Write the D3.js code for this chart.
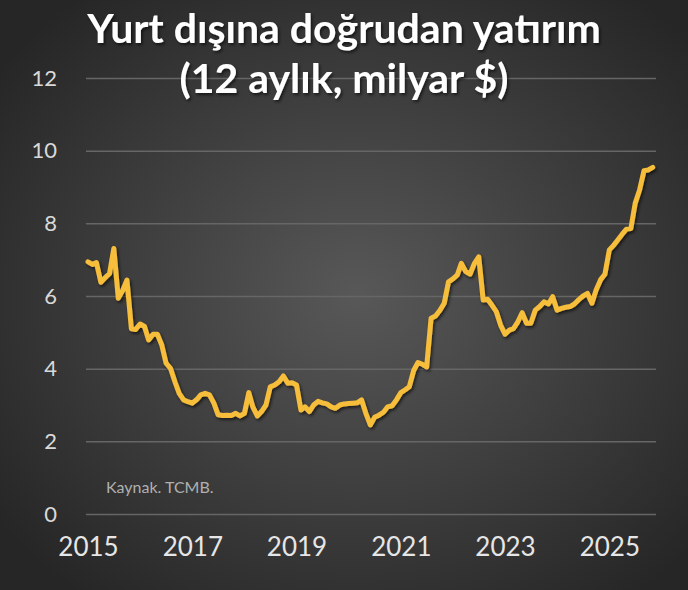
<!DOCTYPE html>
<html>
<head>
<meta charset="utf-8">
<script src="https://cdn.jsdelivr.net/npm/d3@7"></script>
<style>
  html, body { margin: 0; padding: 0; background: #3a3a3a; }
  svg { display: block; font-family: Lato, "Open Sans", sans-serif; }
</style>
</head>
<body>
<svg id="chart"></svg>
<script>
// monthly 12-month rolling outward FDI, Jan 2015 onward (bn $)
const startYear = 2015;
const values = [
  6.94, 6.87, 6.92, 6.38, 6.50, 6.62, 7.31, 5.94, 6.15, 6.44, 5.10, 5.08,
  5.23, 5.16, 4.79, 4.95, 4.95, 4.65, 4.15, 4.01, 3.64, 3.32, 3.14, 3.09,
  3.05, 3.15, 3.28, 3.32, 3.28, 3.05, 2.73, 2.71, 2.72, 2.71, 2.77, 2.70,
  2.77, 3.34, 2.95, 2.70, 2.82, 3.00, 3.50, 3.55, 3.64, 3.80, 3.60, 3.61,
  3.55, 2.86, 2.95, 2.82, 3.00, 3.10, 3.06, 3.03, 2.95, 2.91, 3.00, 3.03,
  3.04, 3.05, 3.06, 3.14, 2.77, 2.45, 2.66, 2.72, 2.80, 2.95, 2.98, 3.14,
  3.34, 3.42, 3.50, 3.95, 4.17, 4.12, 4.05, 5.39, 5.45, 5.60, 5.80, 6.39,
  6.47, 6.58, 6.90, 6.67, 6.60, 6.90, 7.08, 5.89, 5.91, 5.75, 5.57, 5.20,
  4.95, 5.06, 5.10, 5.29, 5.54, 5.25, 5.25, 5.61, 5.71, 5.84, 5.78, 5.98,
  5.61, 5.66, 5.69, 5.71, 5.78, 5.90, 6.00, 6.07, 5.80, 6.17, 6.45, 6.60,
  7.27, 7.40, 7.54, 7.70, 7.84, 7.86, 8.55, 8.92, 9.45, 9.47, 9.54
];
const yTicks = [0, 2, 4, 6, 8, 10, 12];
const xTickYears = [2015, 2017, 2019, 2021, 2023, 2025];
const titleLines = ["Yurt dışına doğrudan yatırım", "(12 aylık, milyar $)"];
const sourceText = "Kaynak. TCMB.";

const W = 688, H = 590;
const data = values.map((v, i) => ({ date: new Date(startYear, i, 1), value: v }));

const svg = d3.select("#chart").attr("width", W).attr("height", H);

// background
const defs = svg.append("defs");
const bg = defs.append("radialGradient").attr("id", "bg")
  .attr("cx", "52%").attr("cy", "50%").attr("r", "65%");
bg.append("stop").attr("offset", "0%").attr("stop-color", "#585858");
bg.append("stop").attr("offset", "100%").attr("stop-color", "#262626");
const shadow = defs.append("filter").attr("id", "shadow")
  .attr("x", "-10%").attr("y", "-10%").attr("width", "120%").attr("height", "130%");
shadow.append("feDropShadow").attr("dx", 1.5).attr("dy", 2).attr("stdDeviation", 1.5)
  .attr("flood-color", "#000").attr("flood-opacity", 0.6);

svg.append("rect").attr("width", W).attr("height", H).attr("fill", "url(#bg)");

const x = d3.scaleTime()
  .domain([new Date(startYear, 0, 1), new Date(2025, 11, 1)])
  .range([88, 657]);
const y = d3.scaleLinear().domain([0, 12]).range([514, 78]);

// y grid + labels
const yAxis = svg.append("g")
  .attr("transform", "translate(86,0)")
  .call(d3.axisLeft(y).tickValues(yTicks).tickSize(-570).tickPadding(29).tickFormat(d3.format("d")));
yAxis.select(".domain").remove();
yAxis.selectAll(".tick line").attr("stroke", "#666").attr("stroke-width", 1.5);
yAxis.selectAll(".tick text").attr("fill", "#d9d9d9").attr("font-size", 22)
  .attr("font-family", "Lato, sans-serif");

// x labels
const xAxis = svg.append("g")
  .attr("transform", "translate(0,530)")
  .call(d3.axisBottom(x)
    .tickValues(xTickYears.map(yr => new Date(yr, 0, 1)))
    .tickSize(0).tickPadding(8).tickFormat(d3.timeFormat("%Y")));
xAxis.select(".domain").remove();
xAxis.selectAll(".tick text").attr("fill", "#e6e6e6").attr("font-size", 26)
  .attr("font-family", "Lato, sans-serif");

// line
const line = d3.line().x(d => x(d.date)).y(d => y(d.value));
svg.append("path").datum(data)
  .attr("d", line)
  .attr("fill", "none")
  .attr("stroke", "#f6be3b")
  .attr("stroke-width", 5)
  .attr("stroke-linejoin", "round")
  .attr("stroke-linecap", "round")
  .attr("filter", "url(#shadow)");

// source
svg.append("text").attr("x", 106).attr("y", 493)
  .attr("fill", "#b0b0b0").attr("font-size", 16).text(sourceText);

// title
svg.selectAll(".title").data(titleLines).join("text")
  .attr("class", "title")
  .attr("x", W / 2).attr("y", (d, i) => 43 + i * 50)
  .attr("text-anchor", "middle")
  .attr("fill", "#ffffff").attr("font-weight", "bold").attr("font-size", 41)
  .attr("filter", "url(#shadow)")
  .text(d => d);
</script>
</body>
</html>
